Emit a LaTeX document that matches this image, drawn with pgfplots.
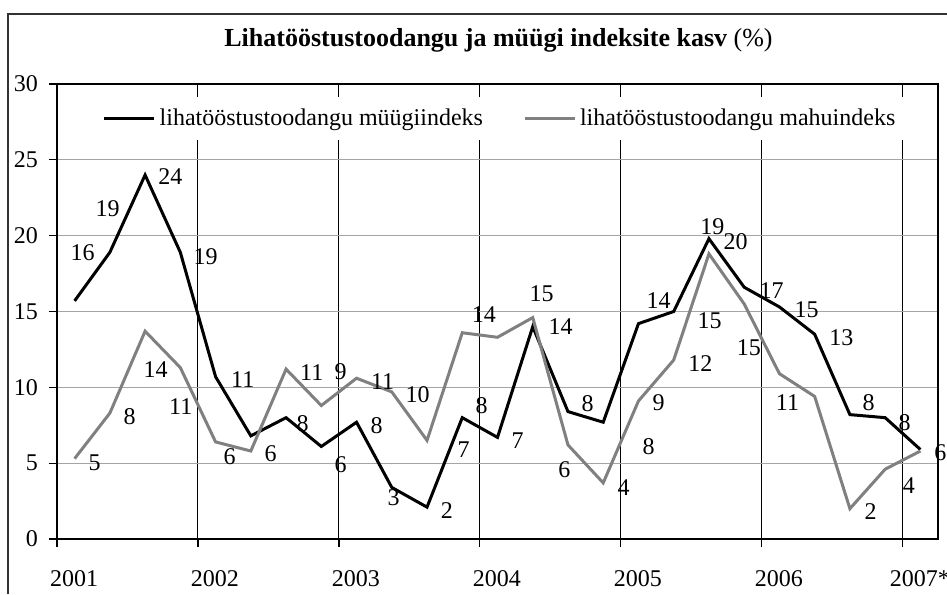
\documentclass[border=0pt]{standalone}
\usepackage{fontspec}
\setmainfont{Liberation Serif}
\usepackage{pgfplots}
\pgfplotsset{compat=1.18}
\definecolor{linegray}{RGB}{128,128,128}
\definecolor{gridgray}{RGB}{165,165,165}
\newcommand{\fs}{\fontsize{12}{14}\selectfont}

% quarterly index, 2001 Q1 ... 2007 Q1
\pgfplotstableread{
q  sale vol
0  15.7 5.3
1  18.9 8.3
2  24.0 13.7
3  18.9 11.3
4  10.7 6.4
5  6.8  5.8
6  8.0  11.2
7  6.1  8.8
8  7.7  10.6
9  3.4  9.7
10 2.1  6.5
11 8.0  13.6
12 6.7  13.3
13 14.0 14.6
14 8.4  6.2
15 7.7  3.7
16 14.2 9.1
17 15.0 11.8
18 19.8 18.8
19 16.6 15.5
20 15.3 10.9
21 13.5 9.4
22 8.2  2.0
23 8.0  4.6
24 5.9  5.8
}\lihadata

\begin{document}
\begin{tikzpicture}
\useasboundingbox (0,0) rectangle (473.5pt,297pt);
\draw[line width=1pt, black!80] (4pt,0pt) -- (4pt,290pt) -- (480pt,290pt);
\node[anchor=base, font=\fontsize{13}{15}\selectfont] at (249.25pt,273.5pt)
  {\textbf{Lihatööstustoodangu ja müügi indeksite kasv} (\%)};
\begin{axis}[
    at={(28.5pt,27.5pt)}, anchor=south west,
    scale only axis,
    width=440.5pt, height=227.5pt,
    xmin=-0.5, xmax=24.5,
    ymin=0, ymax=30,
    ytick={0,5,...,30},
    xtick={-0.5,3.5,...,23.5},
    xticklabels={2001,2002,2003,2004,2005,2006,2007*},
    x tick label style={xshift=8.5pt, yshift=-8pt},
    y tick label style={xshift=-2pt},
    tick align=outside,
    major tick length=4pt,
    xtick pos=bottom, ytick pos=left,
    tick style={black, line width=0.6pt},
    axis line style={line width=0.6pt},
    xmajorgrids, ymajorgrids,
    major x grid style={black, line width=0.5pt},
    major y grid style={gridgray, line width=0.6pt},
    ticklabel style={font=\fs},
    /pgf/number format/assume math mode=true,
    clip=false,
    legend columns=2,
    legend image code/.code={\draw[#1] (0pt,0pt) -- (25pt,0pt);},
    legend style={at={(0.504,0.924)}, anchor=center, draw=none, fill=white,
      font=\fs, inner xsep=4pt, inner ysep=4pt,
      /tikz/every even column/.append style={column sep=18pt}},
]
\addplot[black, line width=1.5pt] table[x=q, y=sale] {\lihadata};
\addlegendentry{lihatööstustoodangu müügiindeks}
\addplot[linegray, line width=1.5pt] table[x=q, y=vol] {\lihadata};
\addlegendentry{lihatööstustoodangu mahuindeks}

\begin{scope}[every node/.style={font=\fs, inner sep=0pt}]
\node at (0.23,18.85) {16};
\node at (0.94,21.8) {19};
\node at (2.72,23.9) {24};
\node at (3.72,18.6) {19};
\node at (0.57,5.0) {5};
\node at (1.56,8.04) {8};
\node at (2.30,11.2) {14};
\node at (3.01,8.7) {11};
\node at (4.77,10.5) {11};
\node at (4.40,5.4) {6};
\node at (5.56,5.6) {6};
\node at (6.73,11.0) {11};
\node at (6.47,7.6) {8};
\node at (7.55,4.9) {6};
\node at (7.55,11.0) {9};
\node at (8.57,7.5) {8};
\node at (8.74,10.35) {11};
\node at (9.05,2.7) {3};
\node at (9.73,9.5) {10};
\node at (10.56,1.9) {2};
\node at (11.04,5.9) {7};
\node at (11.61,14.8) {14};
\node at (11.55,8.8) {8};
\node at (12.57,6.5) {7};
\node at (13.25,16.2) {15};
\node at (13.79,14.0) {14};
\node at (14.56,8.9) {8};
\node at (13.9,4.55) {6};
\node at (15.58,3.4) {4};
\node at (16.29,6.1) {8};
\node at (16.57,9.0) {9};
\node at (16.57,15.7) {14};
\node at (17.76,11.6) {12};
\node at (18.02,14.4) {15};
\node at (18.1,20.6) {19};
\node at (18.76,19.6) {20};
\node at (19.78,16.4) {17};
\node at (19.13,12.6) {15};
\node at (20.77,15.1) {15};
\node at (20.23,9.0) {11};
\node at (21.76,13.3) {13};
\node at (22.53,9.0) {8};
\node at (22.59,1.8) {2};
\node at (23.55,7.7) {8};
\node at (23.67,3.5) {4};
\node at (24.57,5.7) {6};
\end{scope}
\end{axis}
\end{tikzpicture}
\end{document}
